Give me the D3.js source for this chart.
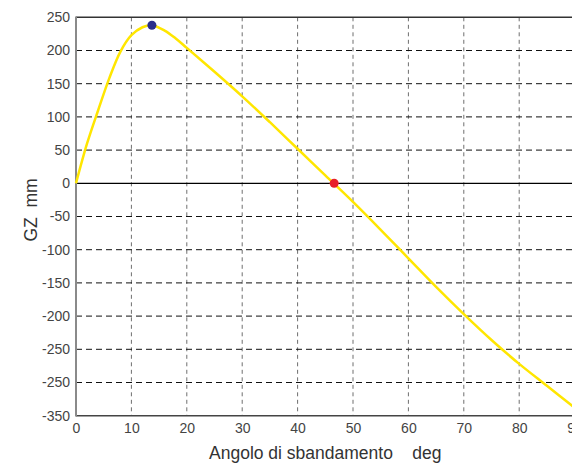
<!DOCTYPE html>
<html>
<head>
<meta charset="utf-8">
<script src="https://cdn.jsdelivr.net/npm/d3@7"></script>
<style>
  body { margin: 0; background: #fff; }
  svg { display: block; font-family: "Liberation Sans", Arial, sans-serif; }
</style>
</head>
<body>
<div id="chart"></div>
<script>
// heel angle (deg) and righting arm GZ (mm)
const angles = [0, 2, 4, 6, 8, 10, 12, 13.7, 16, 18, 20, 25, 30, 35, 40, 45, 50, 55, 60, 65, 70, 75, 80, 85, 90];
const gz = [0, 60, 110, 158, 198, 223, 235, 238, 230, 218, 204, 168, 131, 92, 52, 12, -28, -70, -113, -156, -197, -236, -272, -305, -338];

const maxPoint = [13.7, 238];
const zeroPoint = [46.6, 0];

const xTicks = [0, 10, 20, 30, 40, 50, 60, 70, 80, 90];
const yTicks = [250, 200, 150, 100, 50, 0, -50, -100, -150, -200, -250, -300, -350];
const yTickLabels = ["250", "200", "150", "100", "50", "0", "-50", "-100", "-150", "-200", "-250", "-250", "-350"];

const W = 572, H = 467;
const margin = {top: 17.3, left: 76};
const plotRight = 574.6, plotBottom = 415.7;

const svg = d3.select("#chart").append("svg")
    .attr("width", W)
    .attr("height", H);

const x = d3.scaleLinear([0, 90], [margin.left, plotRight]);
const y = d3.scaleLinear([-350, 250], [plotBottom, margin.top]);

// vertical grid (grey dashes)
svg.append("g")
  .selectAll("line")
  .data(xTicks.filter(d => d > 0 && d < 90))
  .join("line")
    .attr("x1", d => x(d)).attr("x2", d => x(d))
    .attr("y1", margin.top).attr("y2", plotBottom)
    .attr("stroke", "#6e6e6e")
    .attr("stroke-width", 1)
    .attr("stroke-dasharray", "4,3.5");

// horizontal grid (black dashes)
svg.append("g")
  .selectAll("line")
  .data(yTicks.filter(d => d !== 0 && d !== 250 && d !== -350))
  .join("line")
    .attr("x1", margin.left).attr("x2", plotRight)
    .attr("y1", d => y(d)).attr("y2", d => y(d))
    .attr("stroke", "#111")
    .attr("stroke-width", 1)
    .attr("stroke-dasharray", "6,4");

// zero line
svg.append("line")
    .attr("x1", margin.left).attr("x2", plotRight)
    .attr("y1", y(0)).attr("y2", y(0))
    .attr("stroke", "#000")
    .attr("stroke-width", 1.3);

// top border
svg.append("line")
    .attr("x1", margin.left).attr("x2", plotRight)
    .attr("y1", margin.top).attr("y2", margin.top)
    .attr("stroke", "#333")
    .attr("stroke-width", 1.5);

// bottom axis line
svg.append("line")
    .attr("x1", margin.left).attr("x2", plotRight)
    .attr("y1", plotBottom).attr("y2", plotBottom)
    .attr("stroke", "#444")
    .attr("stroke-width", 1.5);

// left axis line
svg.append("line")
    .attr("x1", margin.left).attr("x2", margin.left)
    .attr("y1", margin.top - 0.7).attr("y2", plotBottom + 0.7)
    .attr("stroke", "#8a8a8a")
    .attr("stroke-width", 2);

// tick labels through d3 axes
const yAxis = svg.append("g")
    .attr("transform", `translate(${margin.left},0)`)
    .call(d3.axisLeft(y).tickValues(yTicks).tickSize(0).tickPadding(6)
      .tickFormat((d, i) => yTickLabels[i]));
yAxis.select(".domain").remove();
yAxis.selectAll("text")
    .attr("font-size", 14)
    .attr("font-family", "Liberation Sans, Arial, sans-serif")
    .attr("fill", "#444");

const xAxis = svg.append("g")
    .attr("transform", `translate(0,${plotBottom})`)
    .call(d3.axisBottom(x).tickValues(xTicks).tickSize(0).tickPadding(7)
      .tickFormat(d3.format("d")));
xAxis.select(".domain").remove();
xAxis.selectAll("text")
    .attr("font-size", 14)
    .attr("font-family", "Liberation Sans, Arial, sans-serif")
    .attr("fill", "#444");

// curve
const line = d3.line()
    .x((d, i) => x(angles[i]))
    .y(d => y(d))
    .curve(d3.curveCatmullRom.alpha(0.5));

svg.append("path")
    .datum(gz)
    .attr("fill", "none")
    .attr("stroke", "#ffe600")
    .attr("stroke-width", 2.5)
    .attr("stroke-linejoin", "round")
    .attr("d", line);

// markers
svg.append("circle")
    .attr("cx", x(maxPoint[0])).attr("cy", y(maxPoint[1]))
    .attr("r", 4.5)
    .attr("fill", "#2b2f8c");

svg.append("circle")
    .attr("cx", x(zeroPoint[0])).attr("cy", y(zeroPoint[1]))
    .attr("r", 4.5)
    .attr("fill", "#e8202a");

// axis titles
svg.append("text")
    .attr("x", (margin.left + plotRight) / 2)
    .attr("y", 459)
    .attr("text-anchor", "middle")
    .attr("font-size", 17.5)
    .attr("fill", "#333")
    .style("white-space", "pre")
    .text("Angolo di sbandamento    deg");

svg.append("text")
    .attr("transform", "translate(37,210) rotate(-90)")
    .attr("text-anchor", "middle")
    .attr("font-size", 17.5)
    .attr("fill", "#333")
    .style("white-space", "pre")
    .text("GZ  mm");
</script>
</body>
</html>
